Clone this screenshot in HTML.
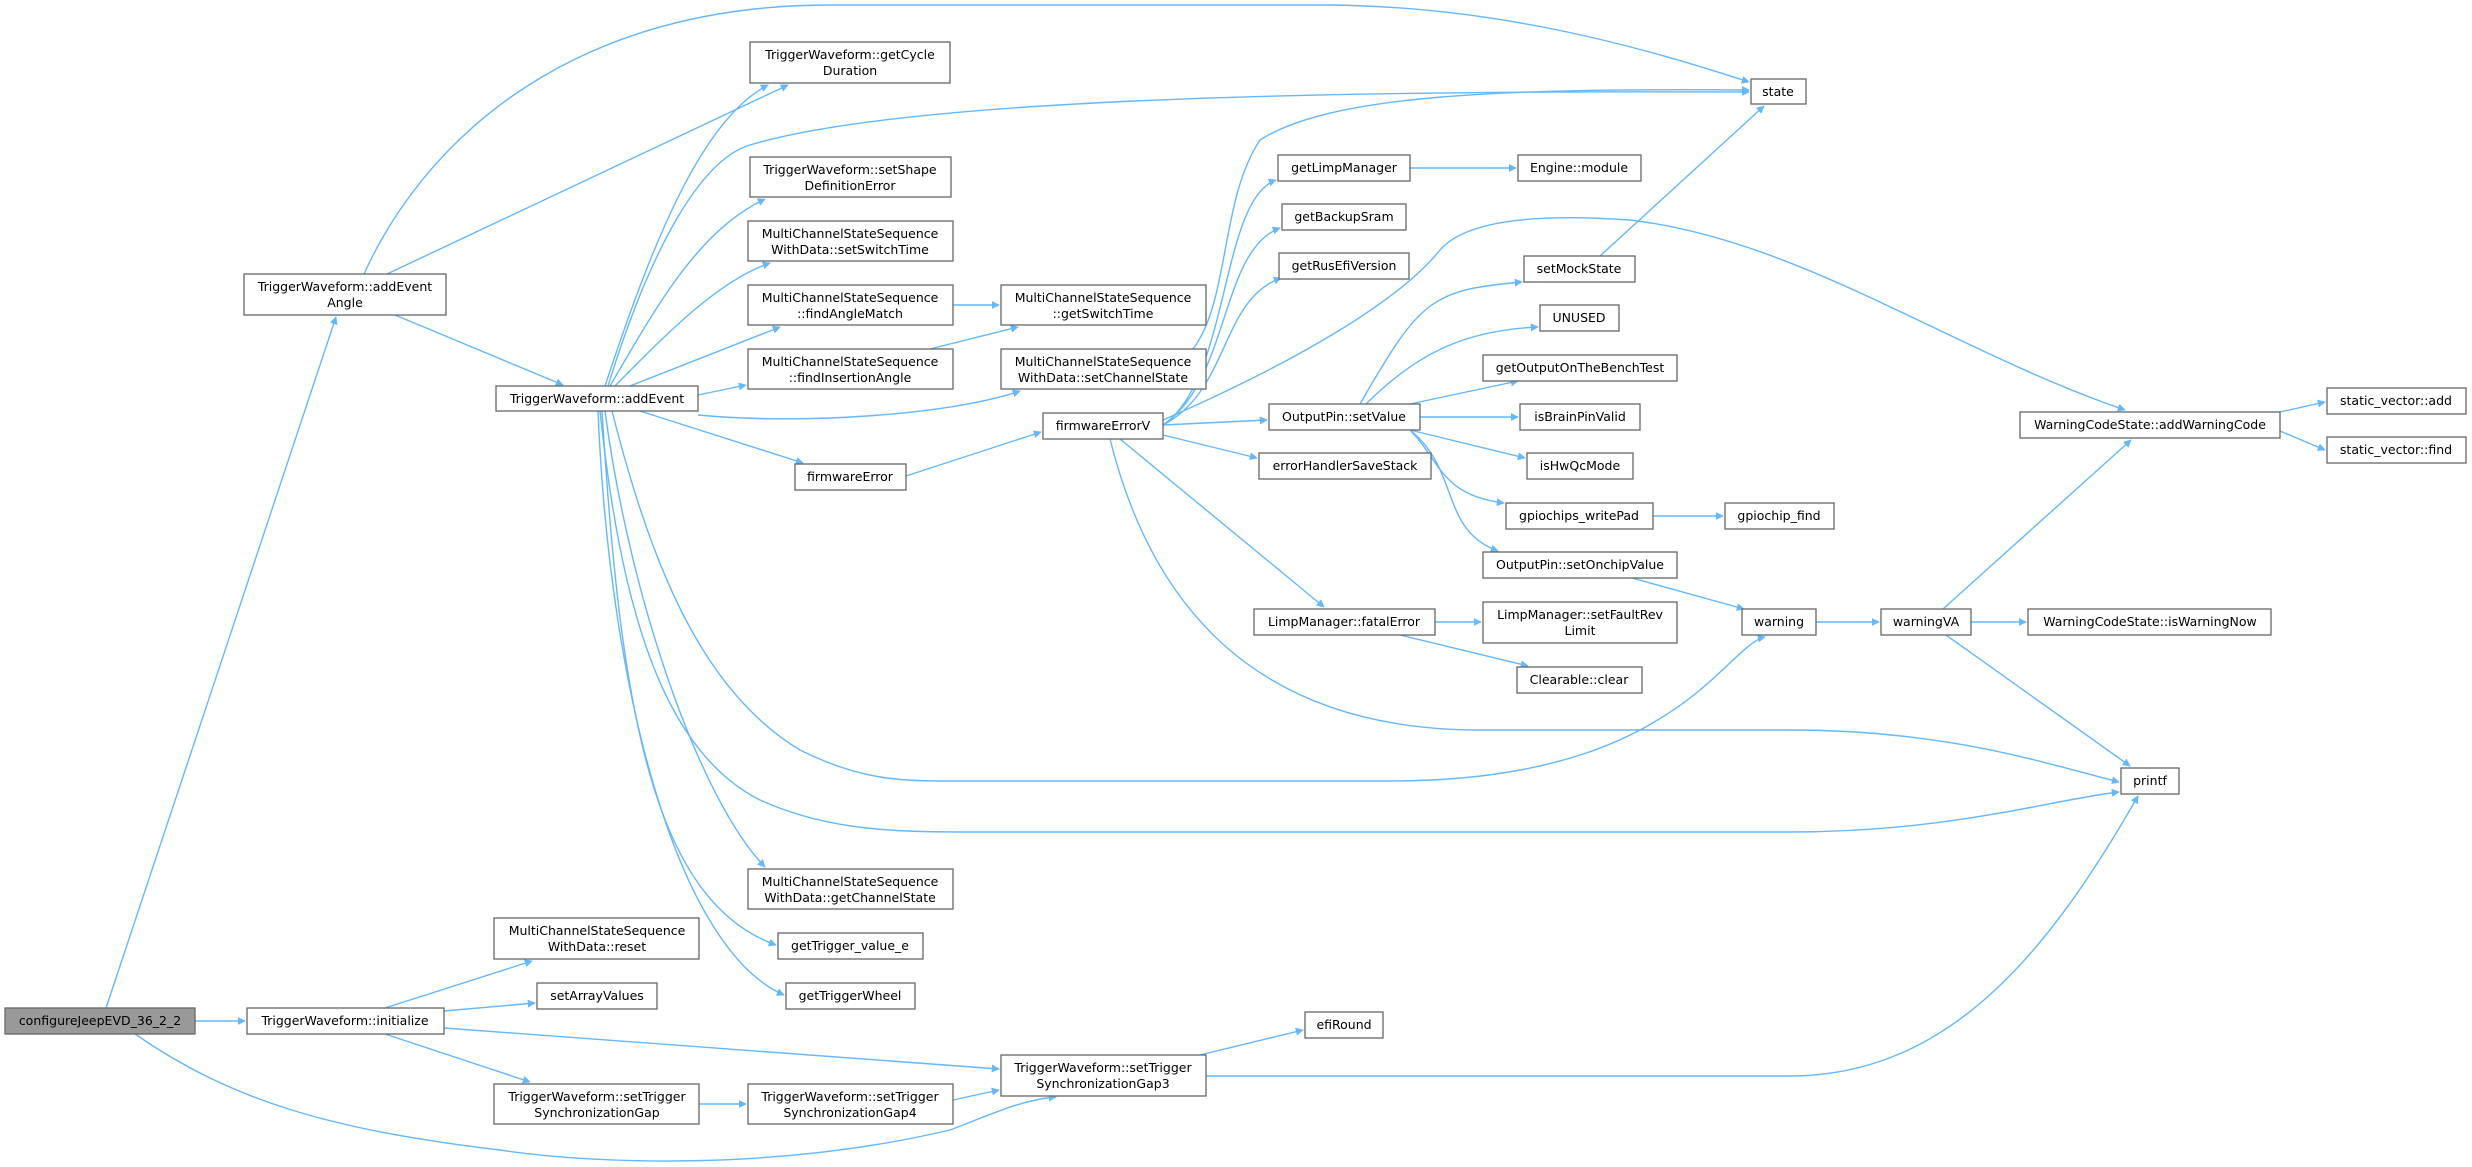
<!DOCTYPE html>
<html><head><meta charset="utf-8"><style>
html,body{margin:0;padding:0;background:#fff;}
svg{display:block;}
text{font-family:"DejaVu Sans","Liberation Sans",sans-serif;font-size:12.5px;fill:#000;text-anchor:middle;}
.e{fill:none;stroke:#63b8ff;stroke-width:1.4;marker-end:url(#a);}
.n{fill:#fff;stroke:#666;stroke-width:1.3;}
</style></head><body>
<svg width="2472" height="1167" viewBox="0 0 2472 1167" xmlns="http://www.w3.org/2000/svg">
<defs><marker id="a" viewBox="0 0 10 10" refX="9" refY="5" markerWidth="8" markerHeight="8" markerUnits="userSpaceOnUse" orient="auto"><path d="M0,0 L10,5 L0,10 z" fill="#63b8ff"/></marker></defs>
<g>
<path class="e" d="M106,1008 L336,317"/>
<path class="e" d="M195,1021 L245,1021"/>
<path class="e" d="M135,1034 C230,1100 330,1130 500,1150 C600,1165 780,1170 950,1130 C990,1115 1020,1100 1056,1097"/>
<path class="e" d="M364,274 C420,150 560,5 830,5 L1320,5 C1500,5 1650,50 1749,82"/>
<path class="e" d="M387,274 L788,85"/>
<path class="e" d="M395,315 L563,385"/>
<path class="e" d="M605,386 C650,250 700,120 768,85"/>
<path class="e" d="M608,386 C650,250 700,160 750,145 C900,100 1300,90 1749,92"/>
<path class="e" d="M610,386 C660,300 700,230 765,199"/>
<path class="e" d="M615,386 C670,330 720,280 770,263"/>
<path class="e" d="M630,386 L780,327"/>
<path class="e" d="M698,395 L746,385"/>
<path class="e" d="M698,415 C800,425 950,415 1020,391"/>
<path class="e" d="M640,411 L803,463"/>
<path class="e" d="M605,411 C630,600 700,800 765,867"/>
<path class="e" d="M602,411 C620,700 650,900 776,945"/>
<path class="e" d="M598,411 C610,700 680,950 784,995"/>
<path class="e" d="M612,411 C650,560 700,690 800,750 C860,780 900,781 950,781 L1390,781 C1550,781 1640,740 1700,690 C1730,665 1750,640 1765,637"/>
<path class="e" d="M600,411 C620,600 660,750 760,800 C830,832 900,832 980,832 L1790,832 C1950,832 2050,800 2119,792"/>
<path class="e" d="M953,305 L999,305"/>
<path class="e" d="M930,349 L1018,327"/>
<path class="e" d="M1193,349 C1230,300 1220,200 1260,140 C1330,95 1500,88 1749,90"/>
<path class="e" d="M906,476 L1041,432"/>
<path class="e" d="M1163,425 C1230,380 1220,200 1276,180"/>
<path class="e" d="M1163,425 C1230,380 1220,250 1280,228"/>
<path class="e" d="M1163,425 C1230,390 1220,300 1281,278"/>
<path class="e" d="M1163,420 C1300,360 1400,300 1440,250 C1470,215 1560,215 1630,220 C1800,240 1950,350 2125,410"/>
<path class="e" d="M1163,425 L1267,420"/>
<path class="e" d="M1163,435 L1257,458"/>
<path class="e" d="M1120,439 L1324,607"/>
<path class="e" d="M1110,439 C1150,600 1250,730 1480,730 L1790,730 C1950,730 2050,765 2119,782"/>
<path class="e" d="M1360,404 C1420,300 1430,290 1522,282"/>
<path class="e" d="M1366,404 C1420,350 1470,330 1538,327"/>
<path class="e" d="M1410,404 L1518,381"/>
<path class="e" d="M1420,417 L1518,417"/>
<path class="e" d="M1410,430 L1525,458"/>
<path class="e" d="M1410,430 C1440,460 1440,495 1504,503"/>
<path class="e" d="M1410,430 C1460,470 1440,530 1498,551"/>
<path class="e" d="M1600,256 L1764,106"/>
<path class="e" d="M1410,168 L1516,168"/>
<path class="e" d="M1653,516 L1723,516"/>
<path class="e" d="M1632,578 L1744,609"/>
<path class="e" d="M1435,622 L1481,622"/>
<path class="e" d="M1400,635 L1528,666"/>
<path class="e" d="M1816,622 L1879,622"/>
<path class="e" d="M1971,622 L2026,622"/>
<path class="e" d="M1943,609 L2131,440"/>
<path class="e" d="M1946,635 L2130,766"/>
<path class="e" d="M2280,412 L2325,402"/>
<path class="e" d="M2280,431 L2325,450"/>
<path class="e" d="M385,1008 L532,961"/>
<path class="e" d="M444,1011 L535,1003"/>
<path class="e" d="M444,1028 L999,1069"/>
<path class="e" d="M385,1034 L530,1082"/>
<path class="e" d="M699,1104 L746,1104"/>
<path class="e" d="M953,1100 L999,1090"/>
<path class="e" d="M1200,1055 L1303,1030"/>
<path class="e" d="M1206,1076 L1790,1076 C1950,1076 2050,950 2138,796"/>
</g>
<g>
<rect class="n" x="5" y="1008" width="190" height="26" style="fill:#999"/><text x="100" y="1025">configureJeepEVD_36_2_2</text>
<rect class="n" x="247" y="1008" width="197" height="26"/><text x="345" y="1025">TriggerWaveform::initialize</text>
<rect class="n" x="244" y="274" width="202" height="41"/><text x="345" y="291">TriggerWaveform::addEvent</text><text x="345" y="307">Angle</text>
<rect class="n" x="496" y="386" width="202" height="25"/><text x="597" y="403">TriggerWaveform::addEvent</text>
<rect class="n" x="750" y="42" width="200" height="41"/><text x="850" y="59">TriggerWaveform::getCycle</text><text x="850" y="75">Duration</text>
<rect class="n" x="750" y="157" width="201" height="40"/><text x="850" y="174">TriggerWaveform::setShape</text><text x="850" y="190">DefinitionError</text>
<rect class="n" x="748" y="221" width="205" height="40"/><text x="850" y="238">MultiChannelStateSequence</text><text x="850" y="254">WithData::setSwitchTime</text>
<rect class="n" x="748" y="285" width="205" height="40"/><text x="850" y="302">MultiChannelStateSequence</text><text x="850" y="318">::findAngleMatch</text>
<rect class="n" x="748" y="349" width="205" height="40"/><text x="850" y="366">MultiChannelStateSequence</text><text x="850" y="382">::findInsertionAngle</text>
<rect class="n" x="1001" y="285" width="205" height="40"/><text x="1103" y="302">MultiChannelStateSequence</text><text x="1103" y="318">::getSwitchTime</text>
<rect class="n" x="1001" y="349" width="205" height="40"/><text x="1103" y="366">MultiChannelStateSequence</text><text x="1103" y="382">WithData::setChannelState</text>
<rect class="n" x="1043" y="413" width="120" height="26"/><text x="1103" y="430">firmwareErrorV</text>
<rect class="n" x="795" y="464" width="111" height="26"/><text x="850" y="481">firmwareError</text>
<rect class="n" x="1751" y="79" width="55" height="25"/><text x="1778" y="96">state</text>
<rect class="n" x="1278" y="155" width="132" height="26"/><text x="1344" y="172">getLimpManager</text>
<rect class="n" x="1518" y="155" width="123" height="26"/><text x="1579" y="172">Engine::module</text>
<rect class="n" x="1282" y="204" width="124" height="26"/><text x="1344" y="221">getBackupSram</text>
<rect class="n" x="1279" y="253" width="130" height="26"/><text x="1344" y="270">getRusEfiVersion</text>
<rect class="n" x="1524" y="256" width="111" height="26"/><text x="1579" y="273">setMockState</text>
<rect class="n" x="1540" y="305" width="79" height="26"/><text x="1579" y="322">UNUSED</text>
<rect class="n" x="1483" y="355" width="194" height="26"/><text x="1580" y="372">getOutputOnTheBenchTest</text>
<rect class="n" x="1269" y="404" width="151" height="26"/><text x="1344" y="421">OutputPin::setValue</text>
<rect class="n" x="1520" y="404" width="120" height="26"/><text x="1580" y="421">isBrainPinValid</text>
<rect class="n" x="1259" y="453" width="172" height="26"/><text x="1345" y="470">errorHandlerSaveStack</text>
<rect class="n" x="1527" y="453" width="106" height="26"/><text x="1580" y="470">isHwQcMode</text>
<rect class="n" x="1506" y="503" width="147" height="26"/><text x="1579" y="520">gpiochips_writePad</text>
<rect class="n" x="1725" y="503" width="109" height="26"/><text x="1779" y="520">gpiochip_find</text>
<rect class="n" x="1483" y="552" width="194" height="26"/><text x="1580" y="569">OutputPin::setOnchipValue</text>
<rect class="n" x="2020" y="412" width="260" height="26"/><text x="2150" y="429">WarningCodeState::addWarningCode</text>
<rect class="n" x="2327" y="388" width="139" height="26"/><text x="2396" y="405">static_vector::add</text>
<rect class="n" x="2327" y="437" width="139" height="26"/><text x="2396" y="454">static_vector::find</text>
<rect class="n" x="1254" y="609" width="181" height="26"/><text x="1344" y="626">LimpManager::fatalError</text>
<rect class="n" x="1483" y="602" width="194" height="41"/><text x="1580" y="619">LimpManager::setFaultRev</text><text x="1580" y="635">Limit</text>
<rect class="n" x="1517" y="667" width="125" height="26"/><text x="1579" y="684">Clearable::clear</text>
<rect class="n" x="1742" y="609" width="74" height="26"/><text x="1779" y="626">warning</text>
<rect class="n" x="1881" y="609" width="90" height="26"/><text x="1926" y="626">warningVA</text>
<rect class="n" x="2028" y="609" width="243" height="26"/><text x="2150" y="626">WarningCodeState::isWarningNow</text>
<rect class="n" x="2121" y="768" width="58" height="26"/><text x="2150" y="785">printf</text>
<rect class="n" x="748" y="869" width="205" height="40"/><text x="850" y="886">MultiChannelStateSequence</text><text x="850" y="902">WithData::getChannelState</text>
<rect class="n" x="778" y="933" width="145" height="26"/><text x="850" y="950">getTrigger_value_e</text>
<rect class="n" x="786" y="983" width="129" height="26"/><text x="850" y="1000">getTriggerWheel</text>
<rect class="n" x="494" y="918" width="205" height="41"/><text x="597" y="935">MultiChannelStateSequence</text><text x="597" y="951">WithData::reset</text>
<rect class="n" x="537" y="983" width="120" height="26"/><text x="597" y="1000">setArrayValues</text>
<rect class="n" x="494" y="1084" width="205" height="40"/><text x="597" y="1101">TriggerWaveform::setTrigger</text><text x="597" y="1117">SynchronizationGap</text>
<rect class="n" x="748" y="1084" width="205" height="40"/><text x="850" y="1101">TriggerWaveform::setTrigger</text><text x="850" y="1117">SynchronizationGap4</text>
<rect class="n" x="1001" y="1055" width="205" height="41"/><text x="1103" y="1072">TriggerWaveform::setTrigger</text><text x="1103" y="1088">SynchronizationGap3</text>
<rect class="n" x="1305" y="1012" width="78" height="26"/><text x="1344" y="1029">efiRound</text>
</g>
</svg>
</body></html>
